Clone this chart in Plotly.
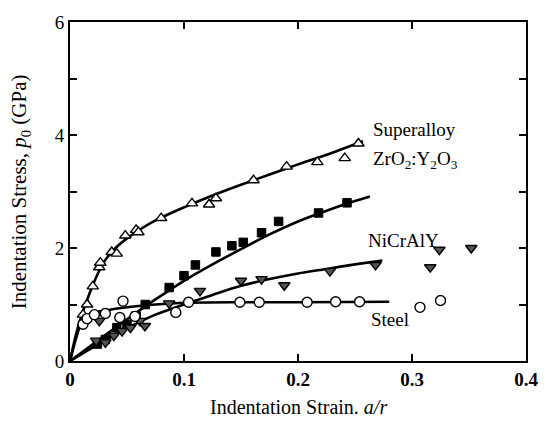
import plotly.graph_objects as go

# ---- data ----
super_x = [0.0114, 0.015, 0.020, 0.0257, 0.0266, 0.0366, 0.041, 0.0485, 0.058, 0.060, 0.080,
           0.107, 0.122, 0.128, 0.161, 0.190, 0.217, 0.241, 0.253]
super_y = [0.82, 1.0, 1.32, 1.66, 1.74, 1.93, 1.90, 2.22, 2.32, 2.28, 2.53,
           2.79, 2.77, 2.88, 3.20, 3.44, 3.52, 3.59, 3.85]

zro2_x = [0.024, 0.031, 0.041, 0.050, 0.058, 0.066, 0.087, 0.100, 0.110, 0.128, 0.142,
          0.152, 0.168, 0.183, 0.218, 0.243]
zro2_y = [0.30, 0.38, 0.59, 0.65, 0.80, 1.00, 1.30, 1.51, 1.70, 1.93, 2.04,
          2.10, 2.27, 2.47, 2.62, 2.80]

nicr_x = [0.023, 0.031, 0.0385, 0.0457, 0.053, 0.0614, 0.0657, 0.0257, 0.087, 0.114,
          0.150, 0.168, 0.188, 0.228, 0.268, 0.316, 0.324, 0.352]
nicr_y = [0.36, 0.33, 0.45, 0.53, 0.59, 0.71, 0.62, 0.71, 1.02, 1.24,
          1.42, 1.45, 1.34, 1.59, 1.70, 1.66, 1.97, 2.00]

steel_x = [0.0114, 0.015, 0.0214, 0.031, 0.0437, 0.0465, 0.057, 0.0928, 0.104, 0.149,
           0.166, 0.208, 0.233, 0.254, 0.307, 0.325]
steel_y = [0.65, 0.75, 0.82, 0.84, 0.77, 1.06, 0.79, 0.86, 1.04, 1.04,
           1.04, 1.04, 1.05, 1.05, 0.95, 1.07]

# fitted curves
super_fit_x = [0, 0.005, 0.01, 0.015, 0.02, 0.025, 0.03, 0.04, 0.05, 0.06, 0.075, 0.1,
               0.125, 0.15, 0.175, 0.2, 0.225, 0.257]
super_fit_y = [0, 0.45, 0.8, 1.08, 1.34, 1.57, 1.76, 2.0, 2.17, 2.31, 2.49, 2.72,
               2.93, 3.12, 3.3, 3.48, 3.65, 3.89]
zro2_fit_x = [0, 0.025, 0.05, 0.075, 0.1, 0.125, 0.15, 0.175, 0.2, 0.225, 0.25, 0.263]
zro2_fit_y = [0, 0.37, 0.74, 1.09, 1.42, 1.71, 1.98, 2.24, 2.47, 2.66, 2.83, 2.91]
nicr_fit_x = [0, 0.025, 0.05, 0.075, 0.1, 0.125, 0.15, 0.175, 0.2, 0.225, 0.25, 0.274]
nicr_fit_y = [0, 0.3, 0.58, 0.82, 1.0, 1.17, 1.33, 1.45, 1.55, 1.63, 1.71, 1.78]
steel_fit_x = [0, 0.005, 0.01, 0.015, 0.02, 0.03, 0.05, 0.075, 0.1, 0.15, 0.2, 0.28]
steel_fit_y = [0, 0.38, 0.68, 0.8, 0.85, 0.89, 0.95, 1.0, 1.03, 1.04, 1.04, 1.05]

labels = ["Superalloy", "ZrO<sub>2</sub>:Y<sub>2</sub>O<sub>3</sub>", "NiCrAlY", "Steel"]
label_x = [0.264, 0.264, 0.2595, 0.262]
label_y = [4.09, 3.55, 2.14, 0.74]

x_ticks = [0, 0.1, 0.2, 0.3, 0.4]
x_ticktext = ["0", "0.1", "0.2", "0.3", "0.4"]
y_ticks = [0, 1, 2, 3, 4, 5, 6]
y_ticktext = ["0", "", "2", "", "4", "", "6"]

SERIF = "Liberation Serif, Times New Roman, serif"

fig = go.Figure()
for fx, fy in [(super_fit_x, super_fit_y), (zro2_fit_x, zro2_fit_y),
               (nicr_fit_x, nicr_fit_y), (steel_fit_x, steel_fit_y)]:
    fig.add_trace(go.Scatter(x=fx, y=fy, mode="lines",
                             line=dict(color="black", width=2.6, shape="spline", smoothing=0.8),
                             showlegend=False, hoverinfo="skip"))

fig.add_trace(go.Scatter(x=super_x, y=super_y, mode="markers",
                         marker=dict(symbol="triangle-up", size=10, color="white",
                                     line=dict(color="black", width=1.4)), showlegend=False))
fig.add_trace(go.Scatter(x=zro2_x, y=zro2_y, mode="markers",
                         marker=dict(symbol="square", size=8.5, color="black",
                                     line=dict(color="black", width=1)), showlegend=False))
fig.add_trace(go.Scatter(x=nicr_x, y=nicr_y, mode="markers",
                         marker=dict(symbol="triangle-down", size=10, color="#555555",
                                     line=dict(color="black", width=1.4)), showlegend=False))
fig.add_trace(go.Scatter(x=steel_x, y=steel_y, mode="markers",
                         marker=dict(symbol="circle", size=10, color="white",
                                     line=dict(color="black", width=1.4)), showlegend=False))

for t, lx, ly in zip(labels, label_x, label_y):
    fig.add_annotation(x=lx, y=ly, text=t, showarrow=False, xanchor="left", yanchor="middle",
                       font=dict(family=SERIF, size=19, color="black"))

fig.add_annotation(xref="paper", yref="paper", x=0.5, y=-0.135, text="Indentation Strain. <i>a/r</i>",
                   showarrow=False, xanchor="center", yanchor="middle",
                   font=dict(family=SERIF, size=20, color="black"))
fig.add_annotation(xref="paper", yref="paper", x=-0.11, y=0.5,
                   text="Indentation Stress, <i>p</i><sub>0</sub> (GPa)", textangle=-90,
                   showarrow=False, xanchor="center", yanchor="middle",
                   font=dict(family=SERIF, size=21, color="black"))

fig.update_layout(
    width=550, height=425,
    margin=dict(l=70, r=13, t=14, b=64),
    paper_bgcolor="white", plot_bgcolor="white",
    xaxis=dict(range=[0, 0.4], tickvals=x_ticks, ticktext=x_ticktext, ticks="inside",
               ticklen=7, tickwidth=1.5, tickcolor="black", showline=True, linecolor="black",
               linewidth=2, mirror="ticks", showgrid=False, zeroline=False,
               tickfont=dict(family=SERIF, size=19, color="black", weight="bold")),
    yaxis=dict(range=[0, 6], tickvals=y_ticks, ticktext=y_ticktext, ticks="inside",
               ticklen=7, tickwidth=1.5, tickcolor="black", showline=True, linecolor="black",
               linewidth=2, mirror="ticks", showgrid=False, zeroline=False,
               tickfont=dict(family=SERIF, size=19, color="black")),
)

fig.write_html("out.html")
